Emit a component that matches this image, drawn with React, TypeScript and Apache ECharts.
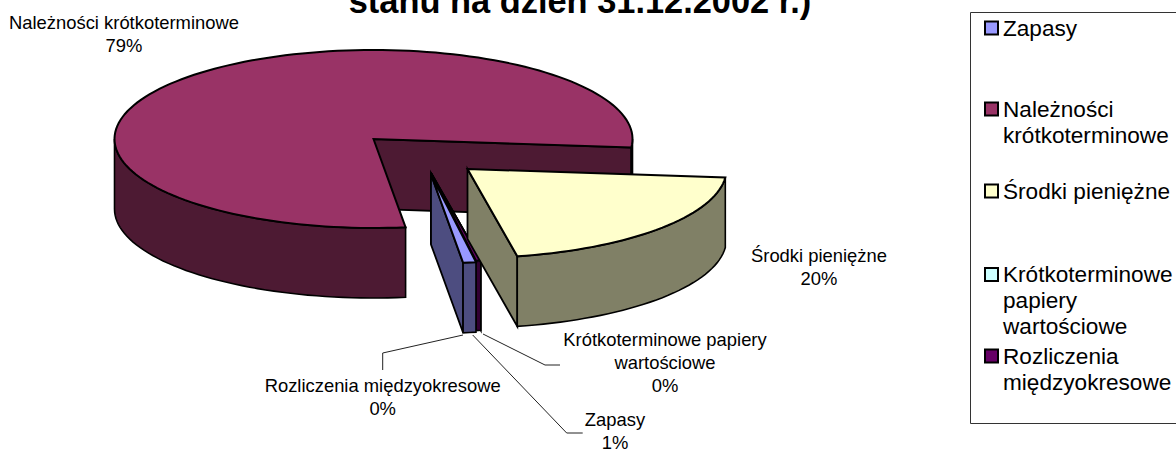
import React, { useEffect, useRef } from "react";
import * as echarts from "echarts";

const titleText = "stanu na dzień 31.12.2002 r.)";
const categories = [
  "Zapasy",
  "Należności krótkoterminowe",
  "Środki pieniężne",
  "Krótkoterminowe papiery wartościowe",
  "Rozliczenia międzyokresowe",
];
const shares = [0.8, 78.5, 20.4, 0.0, 0.3];
const topColors = ["#9999ff", "#993366", "#ffffcc", "#ccffff", "#660066"];
const wallColors = ["#4d4d80", "#4d1a33", "#808066", "#668080", "#330033"];
const labelLines = [
  ["Zapasy"],
  ["Należności krótkoterminowe"],
  ["Środki pieniężne"],
  ["Krótkoterminowe papiery", "wartościowe"],
  ["Rozliczenia międzyokresowe"],
];
const legendLines = [
  ["Zapasy"],
  ["Należności", "krótkoterminowe"],
  ["Środki pieniężne"],
  ["Krótkoterminowe", "papiery", "wartościowe"],
  ["Rozliczenia", "międzyokresowe"],
];

// geometry of the drawing
const FONT = '"Liberation Sans", Arial, sans-serif';
const RX = 259;
const RY = 89;
const DEPTH = 70;
const START_T = 80;
const apexes = [
  [431, 174.5],
  [373.5, 139],
  [467.5, 169],
  [431, 173],
  [431, 173],
];
const labelAnchors = [
  [615, 419.5],
  [124, 23],
  [819, 256],
  [665, 340],
  [382.7, 386],
];
const leaders = [
  [[472.7, 335], [566.7, 433], [582.7, 433]],
  null,
  null,
  [[483, 334], [545, 365], [560, 365]],
  [[463, 335], [382.7, 353], [382.7, 370]],
];
const legendIconY = [28, 109, 191, 274.5, 356];
const drawOrder = [1, 3, 4, 0, 2];

const total = shares.reduce((a, b) => a + b, 0);

function arc(cx: number, cy: number, t0: number, t1: number): number[][] {
  const n = Math.max(2, Math.ceil(Math.abs(t1 - t0) / 2));
  const out: number[][] = [];
  for (let i = 0; i <= n; i++) {
    const t = ((t0 + ((t1 - t0) * i) / n) * Math.PI) / 180;
    out.push([cx + RX * Math.cos(t), cy + RY * Math.sin(t)]);
  }
  return out;
}

function makeRenderItem(idx: number) {
  return (_params: any, api: any) => {
    const value = api.value(0);
    const before = shares.slice(0, idx).reduce((a, b) => a + b, 0);
    const t0 = START_T + (before / total) * 360;
    const t1 = t0 + (value / total) * 360;
    const [cx, cy] = apexes[idx];
    const children: any[] = [];
    const faceStyle = (fill: string, lineWidth = 1.6) => ({
      fill,
      stroke: "#000",
      lineWidth,
      lineJoin: "miter",
    });
    const end = arc(cx, cy, t1, t1)[0];
    // visible straight side at the end of the slice
    children.push({
      type: "polygon",
      shape: {
        points: [
          [cx, cy],
          end,
          [end[0], end[1] + DEPTH],
          [cx, cy + DEPTH],
        ],
      },
      style: faceStyle(wallColors[idx], 1.8),
    });
    // outer rim, only where it faces the viewer
    [
      [t0, Math.min(t1, 180)],
      [Math.max(t0, 360), Math.min(t1, 540)],
    ].forEach(([a, b]) => {
      if (b > a) {
        const upper = arc(cx, cy, a, b);
        const lower = upper.map((p) => [p[0], p[1] + DEPTH]).reverse();
        children.push({
          type: "polygon",
          shape: { points: upper.concat(lower) },
          style: faceStyle(wallColors[idx]),
        });
      }
    });
    // top face
    children.push({
      type: "polygon",
      shape: { points: [[cx, cy], ...arc(cx, cy, t0, t1)] },
      style: faceStyle(topColors[idx], 2),
    });
    const lead = leaders[idx];
    if (lead) {
      children.push({
        type: "polyline",
        shape: { points: lead },
        style: { fill: "none", stroke: "#222", lineWidth: 1 },
      });
    }
    const [lx, ly] = labelAnchors[idx];
    const pct = Math.round((value / total) * 100);
    children.push({
      type: "text",
      style: {
        text: [...labelLines[idx], pct + "%"].join("\n"),
        x: lx,
        y: ly - 12,
        align: "center",
        verticalAlign: "top",
        lineHeight: 23,
        font: `18.4px ${FONT}`,
        fill: "#000",
      },
    });
    return { type: "group", children };
  };
}

export default function App() {
  const ref = useRef<HTMLDivElement>(null);
  useEffect(() => {
    if (!ref.current) return;
    const chart = echarts.init(ref.current, undefined, { renderer: "svg" });
    chart.setOption({
      animation: false,
      backgroundColor: "#fff",
      title: {
        text: titleText,
        left: 580,
        top: -16,
        padding: 0,
        textAlign: "center",
        textStyle: {
          fontFamily: FONT,
          fontWeight: "bold",
          fontSize: 34.4,
          color: "#000",
        },
      },
      graphic: [
        {
          type: "rect",
          silent: true,
          shape: { x: 970.5, y: 12.5, width: 300, height: 411 },
          style: { fill: "#fff", stroke: "#333", lineWidth: 1 },
          z: -1,
        },
      ],
      legend: categories.map((name, i) => {
        const n = legendLines[i].length;
        const lh = 26;
        return {
          data: [name],
          left: 984,
          top: legendIconY[i] - (lh * (2 * n - 1)) / 2,
          padding: 0,
          selectedMode: false,
          icon: "rect",
          itemWidth: 13,
          itemHeight: 13,
          itemStyle: { borderColor: "#000", borderWidth: 2 },
          formatter: () =>
            Array(n - 1).fill("").concat(legendLines[i]).join("\n"),
          textStyle: {
            fontFamily: FONT,
            fontSize: 22.6,
            lineHeight: lh,
            color: "#000",
          },
        };
      }),
      series: drawOrder.map((i) => ({
        type: "custom",
        name: categories[i],
        coordinateSystem: "none",
        renderItem: makeRenderItem(i),
        data: [[shares[i]]],
        itemStyle: { color: topColors[i] },
      })),
    });
    return () => chart.dispose();
  }, []);
  return (
    <div
      ref={ref}
      style={{ position: "fixed", left: 0, top: 0, width: 1176, height: 452 }}
    />
  );
}
